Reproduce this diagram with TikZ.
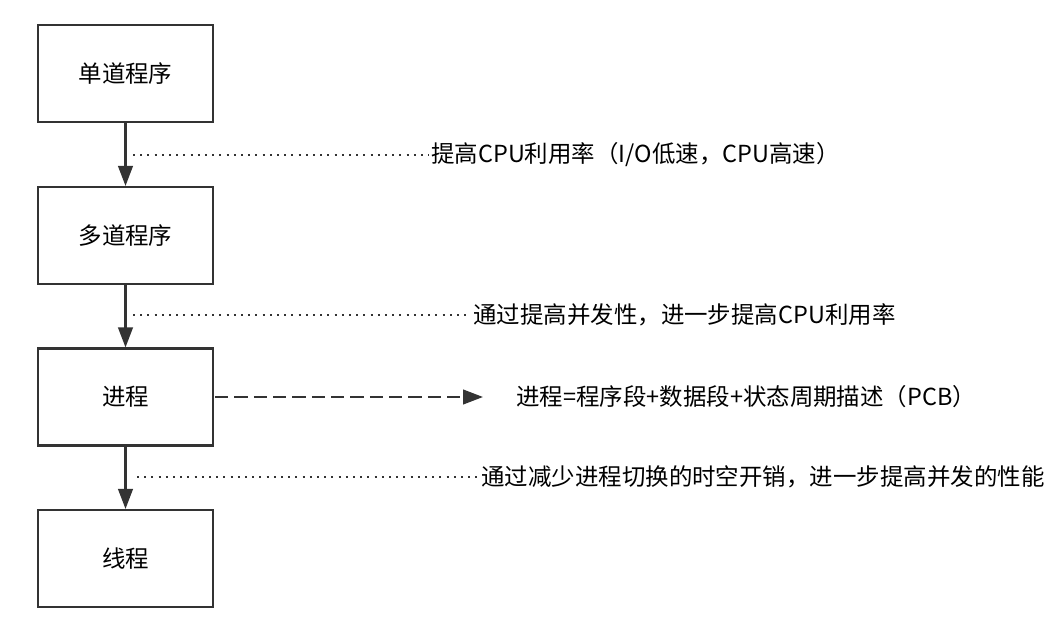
\documentclass[tikz,border=0pt]{standalone}
\usepackage{fontspec}
\setmainfont{Noto Sans CJK SC}
\usetikzlibrary{arrows.meta,positioning}
\definecolor{ink}{HTML}{333333}
\tikzset{box/.style={draw=ink,line width=1.6pt,minimum width=175*0.75pt,minimum height=97*0.75pt,inner sep=0pt,font=\fontsize{17.6}{20}\selectfont},
arr/.style={-{Triangle[length=15pt,width=11pt]},draw=ink,line width=1.6pt},
note/.style={anchor=west,inner sep=0pt,font=\fontsize{17.6}{20}\selectfont},
dots/.style={draw=ink,line width=1.5pt,dash pattern=on 1.5pt off 3.9pt}}

\begin{document}
\begin{tikzpicture}[x=0.75pt,y=-0.75pt]
\useasboundingbox(0,0)rectangle(1059,630);
\node[box](single)at(125.5,73.5){单道程序};\node[box](multi)at(125.5,235.5){多道程序};
\node[box](proc)at(125.5,397){进程};\node[box](thread)at(125.5,558.5){线程};
\draw[arr](single)--(multi);\draw[arr](multi)--(proc);\draw[arr](proc)--(thread);
% annotations
\coordinate(d1)at(133,155);\node[note](n1)at(431,155){提高CPU利用率（I/O低速，CPU高速）};
\coordinate(d2)at(133,315);\node[note](n2)at(473,315){通过提高并发性，进一步提高CPU利用率};
\coordinate(d3)at(137,477);\node[note](n3)at(481,477){通过减少进程切换的时空开销，进一步提高并发的性能};
\foreach\n in{1,2,3}\draw[dots](d\n)--([xshift=-2pt]n\n.west);
\node[note](pcb)at(516,397){进程=程序段+数据段+状态周期描述（PCB）};
\draw[arr,dash pattern=on 10pt off 4.5pt]([xshift=0.8pt]proc.east)--(483,397);
\end{tikzpicture}
\end{document}
